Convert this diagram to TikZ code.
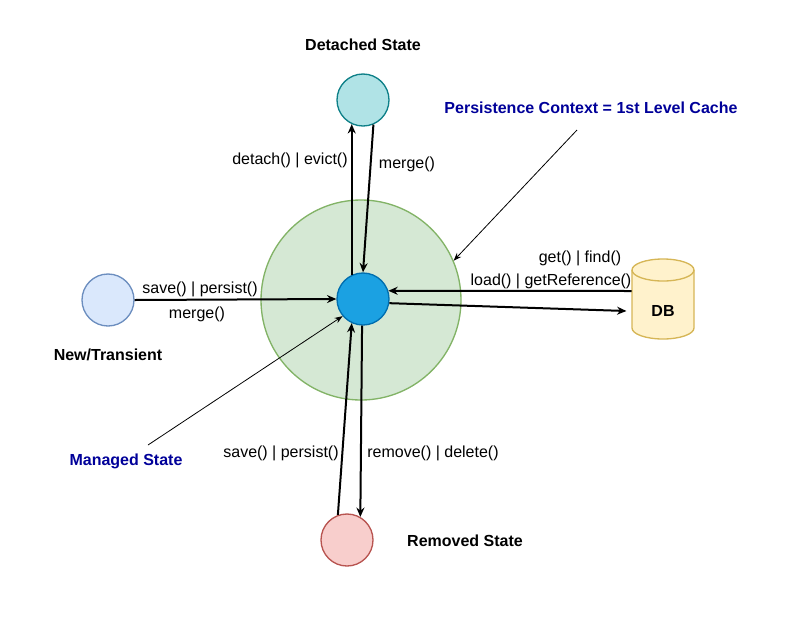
\documentclass[tikz,border=0pt]{standalone}
\usepackage{fontspec}
\setmainfont{Liberation Sans}
\usetikzlibrary{arrows.meta,shapes.geometric}
\definecolor{ctxfill}{HTML}{D5E8D4}
\definecolor{ctxline}{HTML}{82B366}
\definecolor{mgdfill}{HTML}{1BA1E2}
\definecolor{mgdline}{HTML}{006EAF}
\definecolor{detfill}{HTML}{B0E3E6}
\definecolor{detline}{HTML}{0E8088}
\definecolor{newfill}{HTML}{DAE8FC}
\definecolor{newline}{HTML}{6C8EBF}
\definecolor{remfill}{HTML}{F8CECC}
\definecolor{remline}{HTML}{B85450}
\definecolor{dbfill}{HTML}{FFF2CC}
\definecolor{dbline}{HTML}{D6B656}
\definecolor{notecol}{HTML}{000099}

\begin{document}
\begin{tikzpicture}[x=0.75pt,y=-0.75pt,font=\fontsize{12}{14}\selectfont]
\tikzset{
  state/.style={circle, minimum size=39pt, inner sep=0pt, line width=1pt},
  trans/.style={line width=1.5pt, -{Stealth[length=7pt,width=6pt]}},
  pointer/.style={line width=0.6pt, -{Stealth[length=6pt,width=4.5pt]}},
  title/.style={font=\fontsize{12}{14}\selectfont\bfseries},
  note/.style={title, text=notecol}
}
\useasboundingbox (0,0) rectangle (797,626);
\node [circle, minimum size=150pt, fill=ctxfill, draw=ctxline, line width=1pt] (ctx) at (361,300) {};
\node [state, fill=mgdfill, draw=mgdline] (managed) at (363,299) {};
\node [state, fill=detfill, draw=detline] (detached) at (363,100) {};
\node [state, fill=newfill, draw=newline] (transient) at (108,300) {};
\node [state, fill=remfill, draw=remline] (removed) at (347,540) {};

\draw [fill=dbfill, draw=dbline, line width=1pt] (632,270) -- (632,328)
  arc [start angle=180, end angle=0, x radius=31, y radius=11] -- (694,270)
  arc [start angle=0, end angle=-180, x radius=31, y radius=11] -- cycle;
\draw [dbline, line width=1pt] (632,270) arc [start angle=180, end angle=0, x radius=31, y radius=11];
\node [minimum width=46.5pt, minimum height=60pt, inner sep=0pt] (db) at (663,299) {};
\node [title] (dblabel) at (663,311) {DB};

\node [title] (detlabel) at (363,45) {Detached State};
\node [title] (newlabel) at (108,355) {New/Transient};
\node [title] (remlabel) at (465,541) {Removed State};
\node [note] (ctxlabel) at (591,108) {Persistence Context = 1st Level Cache};
\node [note] (mgdlabel) at (126,461) {Managed State};

\coordinate (pcfrom) at (577,130);
\coordinate (msfrom) at (148,445);

\draw [trans] (managed.115) -- (detached.245);
\draw [trans] (detached.293) -- (managed.north);
\draw [trans] (transient.east) -- (managed.west);
\draw [trans] ([yshift=6pt]db.west) -- (managed.18);
\draw [trans] (managed.-9) -- ([xshift=-4pt,yshift=-9pt]db.west);
\draw [trans] (managed.268) -- (removed.60);
\draw [trans] (removed.110) -- (managed.245);
\draw [pointer] (msfrom) -- (managed.220);
\draw [pointer] (pcfrom) -- (ctx.23);

\node (l1) at (290,160) {detach() | evict()};
\node (l2) at (407,164) {merge()};
\node (l3) at (200,289) {save() | persist()};
\node (l4) at (197,314) {merge()};
\node (l5) at (580,258) {get() | find()};
\node (l6) at (551,281) {load() | getReference()};
\node (l7) at (281,453) {save() | persist()};
\node (l8) at (433,453) {remove() | delete()};
\end{tikzpicture}
\end{document}
